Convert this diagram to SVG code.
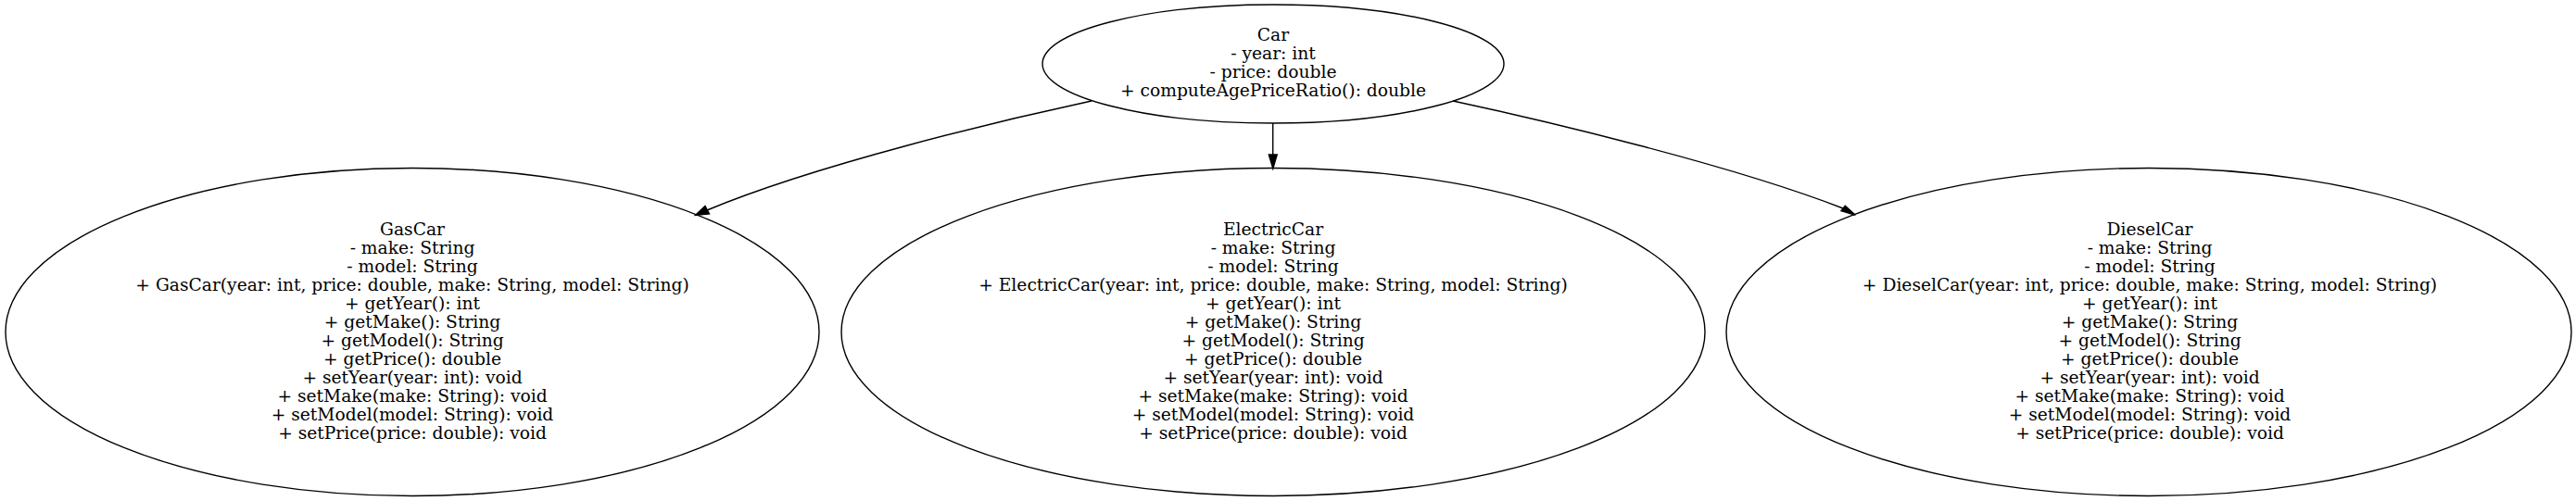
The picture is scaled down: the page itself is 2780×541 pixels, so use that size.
<svg xmlns="http://www.w3.org/2000/svg" width="2780" height="541" viewBox="0 0 2780 541">
<style>
.node ellipse{fill:none;stroke:#000;stroke-width:1.4}
.node text{font-family:"DejaVu Serif","Liberation Serif",serif;font-size:18.67px;text-anchor:middle;fill:#000}
.edge path{fill:none;stroke:#000;stroke-width:1.4}
.edge polygon{fill:#000;stroke:#000;stroke-width:1.4}
</style>
<rect width="2780" height="541" fill="#fff"/>
<g id="connectors">
<g class="edge" id="car-gascar">
<path d="M1178,109 C1080,130 880,178 763,227"/>
<polygon points="761,222.5 765.5,231 750.5,232.3"/>
</g>
<g class="edge" id="car-electriccar">
<path d="M1373.7,133 L1373.7,167"/>
<polygon points="1369.3,167 1378.2,167 1373.8,182"/>
</g>
<g class="edge" id="car-dieselcar">
<path d="M1568,109 C1666,130 1868,178 1989,225"/>
<polygon points="1991.3,222.3 1987,227.7 2002.3,232.3"/>
</g>
</g>
<g class="node" id="car">
<ellipse cx="1374" cy="69" rx="249" ry="64"/>
<text x="1374" y="43.5">Car</text>
<text x="1374" y="63.5">- year: int</text>
<text x="1374" y="83.5">- price: double</text>
<text x="1374" y="103.5">+ computeAgePriceRatio(): double</text>
</g>
<g class="node" id="gascar">
<ellipse cx="445" cy="358.5" rx="439" ry="177"/>
<text x="445" y="253.5">GasCar</text>
<text x="445" y="273.5">- make: String</text>
<text x="445" y="293.5">- model: String</text>
<text x="445" y="313.5">+ GasCar(year: int, price: double, make: String, model: String)</text>
<text x="445" y="333.5">+ getYear(): int</text>
<text x="445" y="353.5">+ getMake(): String</text>
<text x="445" y="373.5">+ getModel(): String</text>
<text x="445" y="393.5">+ getPrice(): double</text>
<text x="445" y="413.5">+ setYear(year: int): void</text>
<text x="445" y="433.5">+ setMake(make: String): void</text>
<text x="445" y="453.5">+ setModel(model: String): void</text>
<text x="445" y="473.5">+ setPrice(price: double): void</text>
</g>
<g class="node" id="electriccar">
<ellipse cx="1374" cy="358.5" rx="466" ry="177"/>
<text x="1374" y="253.5">ElectricCar</text>
<text x="1374" y="273.5">- make: String</text>
<text x="1374" y="293.5">- model: String</text>
<text x="1374" y="313.5">+ ElectricCar(year: int, price: double, make: String, model: String)</text>
<text x="1374" y="333.5">+ getYear(): int</text>
<text x="1374" y="353.5">+ getMake(): String</text>
<text x="1374" y="373.5">+ getModel(): String</text>
<text x="1374" y="393.5">+ getPrice(): double</text>
<text x="1374" y="413.5">+ setYear(year: int): void</text>
<text x="1374" y="433.5">+ setMake(make: String): void</text>
<text x="1374" y="453.5">+ setModel(model: String): void</text>
<text x="1374" y="473.5">+ setPrice(price: double): void</text>
</g>
<g class="node" id="dieselcar">
<ellipse cx="2319" cy="358.5" rx="456" ry="177"/>
<text x="2320" y="253.5">DieselCar</text>
<text x="2320" y="273.5">- make: String</text>
<text x="2320" y="293.5">- model: String</text>
<text x="2320" y="313.5">+ DieselCar(year: int, price: double, make: String, model: String)</text>
<text x="2320" y="333.5">+ getYear(): int</text>
<text x="2320" y="353.5">+ getMake(): String</text>
<text x="2320" y="373.5">+ getModel(): String</text>
<text x="2320" y="393.5">+ getPrice(): double</text>
<text x="2320" y="413.5">+ setYear(year: int): void</text>
<text x="2320" y="433.5">+ setMake(make: String): void</text>
<text x="2320" y="453.5">+ setModel(model: String): void</text>
<text x="2320" y="473.5">+ setPrice(price: double): void</text>
</g>
</svg>
